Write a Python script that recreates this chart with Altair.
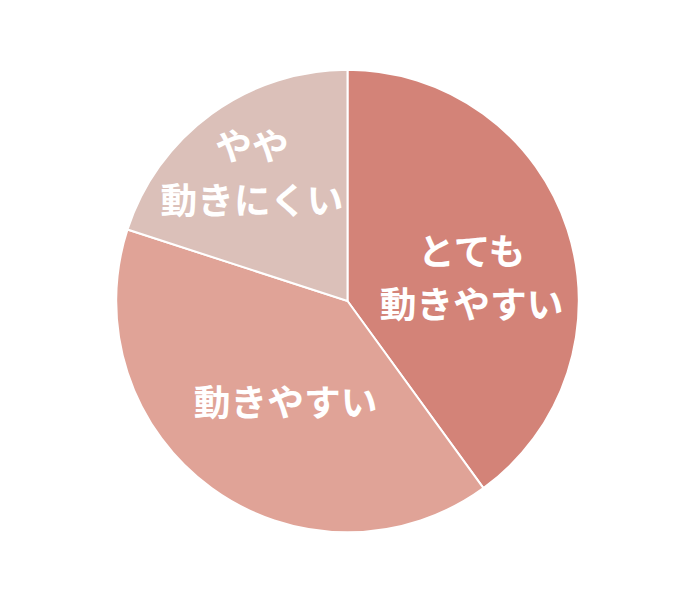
import altair as alt
import pandas as pd

categories = ["とても動きやすい", "動きやすい", "やや動きにくい"]
labels = ["とても\n動きやすい", "動きやすい", "やや\n動きにくい"]
values = [40, 40, 20]
colors = ["#D38378", "#E0A397", "#DBC0B9"]

df = pd.DataFrame({
    "category": categories,
    "label": labels,
    "value": values,
    "order": list(range(len(categories))),
})

color_scale = alt.Scale(domain=categories, range=colors)

base = alt.Chart(df).encode(
    theta=alt.Theta("value:Q", stack=True),
    order=alt.Order("order:O"),
)

arcs = base.mark_arc(outerRadius=233, stroke="white", strokeWidth=2).encode(
    color=alt.Color("category:N", scale=color_scale, legend=None)
)

def text_layer(cat, radius, dx, dy):
    return base.mark_text(
        radius=radius, dx=dx, dy=dy,
        font="Noto Sans CJK JP", fontSize=37, fontWeight="bold",
        color="white", lineBreak="\n", lineHeight=54,
        align="center", baseline="middle",
    ).encode(
        text="label:N",
        opacity=alt.condition(alt.datum.category == cat, alt.value(1), alt.value(0)),
    )

texts = [
    text_layer(categories[0], 121, 10, -10),
    text_layer(categories[1], 123, 10, 5),
    text_layer(categories[2], 162, -1, -22),
]

chart = alt.layer(arcs, *texts).properties(
    width=684, height=586,
    padding=0,
    autosize=alt.AutoSizeParams(type="none"),
).configure_view(stroke=None)

chart.save("out.html", embed_options={"renderer": "svg", "actions": False})
